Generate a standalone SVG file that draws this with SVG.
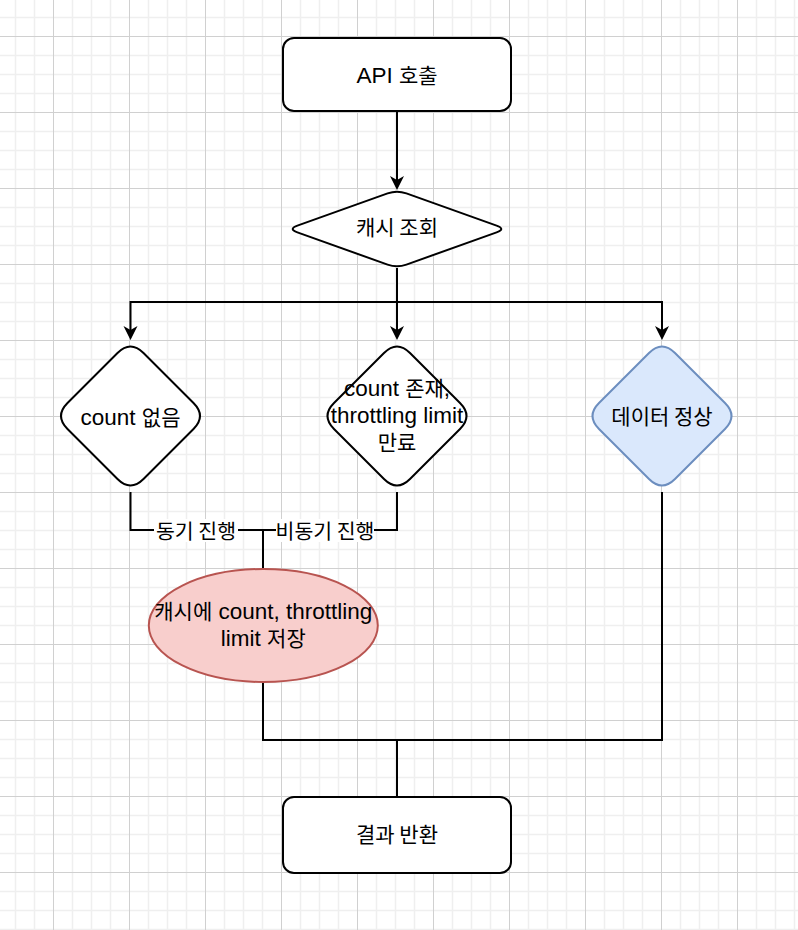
<svg xmlns="http://www.w3.org/2000/svg" width="798" height="930" viewBox="0 0 798 930">
<style>
  .node{stroke:#000;stroke-width:2;fill:#fff}
  .blue{fill:#dae8fc;stroke:#6c8ebf}
  .red{fill:#f8cecc;stroke:#b85450}
  .edge{fill:none;stroke:#000;stroke-width:2}
  .t{font-family:"Liberation Sans","Noto Sans CJK KR",sans-serif;font-size:22.5px;fill:#000;text-anchor:middle}
  .k{font-family:"Noto Sans CJK KR",sans-serif;font-size:21px}
  .lbl{font-family:"Noto Sans CJK KR",sans-serif;font-size:20.5px;fill:#000;text-anchor:middle}
</style>
<defs>
  <pattern id="grid" patternUnits="userSpaceOnUse" x="53" y="36" width="76" height="76">
    <path d="M19.5,0V76M38.5,0V76M57.5,0V76M0,19.5H76M0,38.5H76M0,57.5H76" stroke="#efefef" stroke-width="1.5" fill="none"/>
    <path d="M0.5,0V76M0,0.5H76" stroke="#d0d0d0" stroke-width="1" fill="none"/>
  </pattern>
  <marker id="arr" viewBox="0 0 16 16" refX="5" refY="8" markerWidth="16" markerHeight="16" markerUnits="userSpaceOnUse" orient="auto">
    <path d="M1,1 L15,8 L1,15 L5,8 Z" fill="#000"/>
  </marker>
</defs>
<rect width="798" height="930" fill="#fff"/>
<rect width="798" height="930" fill="url(#grid)"/>

<g id="connectors">
  <path class="edge" d="M397,111 V180" marker-end="url(#arr)"/>
  <path class="edge" d="M397,268 V302 H130.5 V330" marker-end="url(#arr)"/>
  <path class="edge" d="M397,268 V330" marker-end="url(#arr)"/>
  <path class="edge" d="M397,302 H662 V330" marker-end="url(#arr)"/>
  <path class="edge" d="M130.5,492 V530 H263 V569"/>
  <path class="edge" d="M397,492 V530 H263"/>
  <path class="edge" d="M263,682 V740 H397 V797"/>
  <path class="edge" d="M662,492 V740 H397"/>
  <g id="label-sync">
    <rect x="154" y="519" width="84" height="23" fill="#fff"/>
    <text class="lbl" x="196" y="539">동기 진행</text>
  </g>
  <g id="label-async">
    <rect x="276" y="519" width="98" height="23" fill="#fff"/>
    <text class="lbl" x="325" y="539">비동기 진행</text>
  </g>
</g>

<g id="api-call">
  <rect class="node" x="283" y="38" width="228" height="73" rx="11"/>
  <text class="t" x="397" y="83">API <tspan class="k">호출</tspan></text>
</g>

<g id="cache-lookup">
  <path class="node" d="M387.6,193.4 Q397,190 406.4,193.4 L496.6,225.6 Q506,229 496.6,232.4 L406.4,264.6 Q397,268 387.6,264.6 L297.4,232.4 Q288,229 297.4,225.6 Z"/>
  <text class="t" x="397" y="235"><tspan class="k">캐시 조회</tspan></text>
</g>

<g id="no-count">
  <path class="node" d="M117.5,353 Q130.5,340 143.5,353 L193.5,403 Q206.5,416 193.5,429 L143.5,479 Q130.5,492 117.5,479 L67.5,429 Q54.5,416 67.5,403 Z"/>
  <text class="t" x="130.5" y="425">count <tspan class="k">없음</tspan></text>
</g>

<g id="count-expired">
  <path class="node" d="M384,353 Q397,340 410,353 L460,403 Q473,416 460,429 L410,479 Q397,492 384,479 L334,429 Q321,416 334,403 Z"/>
  <text class="t" x="397" y="396">count <tspan class="k">존재</tspan>,</text>
  <text class="t" x="397" y="423">throttling limit</text>
  <text class="t" x="397" y="450"><tspan class="k">만료</tspan></text>
</g>

<g id="data-ok">
  <path class="node blue" d="M649,353 Q662,340 675,353 L725,403 Q738,416 725,429 L675,479 Q662,492 649,479 L599,429 Q586,416 599,403 Z"/>
  <text class="t" x="662" y="424"><tspan class="k">데이터 정상</tspan></text>
</g>

<g id="save-cache">
  <ellipse class="node red" cx="263.3" cy="625.5" rx="114.5" ry="56.5"/>
  <text class="t" x="263.3" y="618.5"><tspan class="k">캐시에</tspan> count, throttling</text>
  <text class="t" x="263.3" y="645.5">limit <tspan class="k">저장</tspan></text>
</g>

<g id="result">
  <rect class="node" x="283" y="797" width="228" height="76" rx="11"/>
  <text class="t" x="397" y="842"><tspan class="k">결과 반환</tspan></text>
</g>
</svg>
